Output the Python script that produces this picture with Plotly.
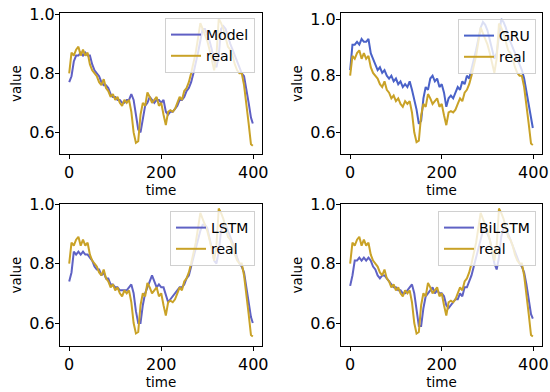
import plotly.graph_objects as go

time = list(range(0, 400, 5)) + [399]

real = [0.80, 0.87, 0.86, 0.88, 0.89, 0.86, 0.88, 0.86, 0.87, 0.83,
        0.81, 0.80, 0.79, 0.77, 0.76, 0.78, 0.75, 0.74, 0.72, 0.73,
        0.71, 0.72, 0.70, 0.69, 0.71, 0.70, 0.71, 0.67, 0.60, 0.565,
        0.57, 0.66, 0.70, 0.69, 0.735, 0.72, 0.70, 0.71, 0.72, 0.69,
        0.70, 0.66, 0.625, 0.67, 0.675, 0.67, 0.68, 0.70, 0.72, 0.71,
        0.74, 0.75, 0.77, 0.80, 0.83, 0.87, 0.92, 0.97, 0.95, 0.93,
        0.91, 0.88, 0.84, 0.81, 0.86, 0.985, 0.97, 0.95, 0.92, 0.89,
        0.88, 0.86, 0.83, 0.81, 0.80, 0.80, 0.76, 0.70, 0.63, 0.56, 0.555]

model = [0.77, 0.79, 0.84, 0.86, 0.86, 0.87, 0.86, 0.87, 0.86, 0.86,
         0.83, 0.81, 0.80, 0.79, 0.77, 0.76, 0.76, 0.75, 0.73, 0.72,
         0.72, 0.71, 0.71, 0.70, 0.70, 0.71, 0.71, 0.73, 0.71, 0.66,
         0.61, 0.60, 0.64, 0.69, 0.70, 0.72, 0.71, 0.70, 0.71, 0.71,
         0.70, 0.71, 0.67, 0.66, 0.67, 0.67, 0.68, 0.69, 0.71, 0.71,
         0.72, 0.74, 0.75, 0.77, 0.80, 0.83, 0.87, 0.91, 0.95, 0.95,
         0.93, 0.91, 0.88, 0.84, 0.82, 0.86, 0.95, 0.96, 0.95, 0.92,
         0.90, 0.88, 0.86, 0.84, 0.82, 0.80, 0.79, 0.75, 0.70, 0.65, 0.63]

gru = [0.82, 0.91, 0.91, 0.92, 0.91, 0.93, 0.92, 0.92, 0.93, 0.88,
       0.86, 0.84, 0.82, 0.83, 0.81, 0.82, 0.80, 0.79, 0.80, 0.78,
       0.79, 0.77, 0.78, 0.76, 0.77, 0.76, 0.78, 0.75, 0.72, 0.68,
       0.63, 0.64, 0.72, 0.76, 0.75, 0.79, 0.80, 0.78, 0.79, 0.76,
       0.77, 0.74, 0.69, 0.72, 0.73, 0.72, 0.74, 0.76, 0.75, 0.78,
       0.77, 0.80, 0.79, 0.82, 0.85, 0.89, 0.93, 0.97, 0.99, 0.98,
       0.96, 0.93, 0.89, 0.86, 0.88, 0.95, 1.00, 0.99, 0.97, 0.94,
       0.92, 0.90, 0.88, 0.86, 0.84, 0.82, 0.79, 0.74, 0.69, 0.64, 0.615]

lstm = [0.74, 0.77, 0.84, 0.83, 0.84, 0.83, 0.84, 0.83, 0.83, 0.82,
        0.81, 0.79, 0.78, 0.78, 0.76, 0.77, 0.75, 0.75, 0.73, 0.73,
        0.72, 0.72, 0.71, 0.71, 0.71, 0.71, 0.72, 0.73, 0.70, 0.64,
        0.60, 0.60, 0.66, 0.70, 0.72, 0.74, 0.76, 0.74, 0.72, 0.73,
        0.72, 0.72, 0.69, 0.67, 0.68, 0.69, 0.70, 0.71, 0.72, 0.72,
        0.73, 0.75, 0.76, 0.79, 0.82, 0.85, 0.88, 0.91, 0.93, 0.93,
        0.92, 0.89, 0.85, 0.81, 0.80, 0.84, 0.91, 0.93, 0.93, 0.91,
        0.89, 0.87, 0.85, 0.82, 0.80, 0.79, 0.77, 0.72, 0.67, 0.62, 0.60]

bilstm = [0.725, 0.76, 0.81, 0.81, 0.82, 0.81, 0.82, 0.81, 0.82, 0.81,
          0.79, 0.78, 0.76, 0.75, 0.76, 0.76, 0.75, 0.74, 0.73, 0.72,
          0.72, 0.71, 0.71, 0.70, 0.70, 0.71, 0.72, 0.73, 0.70, 0.65,
          0.59, 0.59, 0.65, 0.69, 0.70, 0.71, 0.72, 0.70, 0.71, 0.70,
          0.70, 0.69, 0.66, 0.65, 0.66, 0.67, 0.68, 0.68, 0.70, 0.69,
          0.72, 0.72, 0.74, 0.76, 0.79, 0.82, 0.86, 0.89, 0.91, 0.91,
          0.90, 0.88, 0.84, 0.80, 0.78, 0.82, 0.89, 0.92, 0.92, 0.90,
          0.88, 0.86, 0.84, 0.82, 0.80, 0.79, 0.77, 0.73, 0.68, 0.63, 0.615]

panels = [
    ("Model", model, "#5f5fc4", "legend"),
    ("GRU", gru, "#4a62c8", "legend2"),
    ("LSTM", lstm, "#5f62c4", "legend3"),
    ("BiLSTM", bilstm, "#5f62c4", "legend4"),
]
REAL_COLOR = "#c9a227"

W, H = 550, 392
# pixel boxes: (left, right, top, bottom)
boxes = [(60, 262, 13, 154), (341, 542, 13, 154), (60, 262, 204, 346), (341, 542, 204, 346)]
yranges = [[0.527, 1.004], [0.523, 1.022], [0.523, 1.0], [0.523, 1.0]]
legend_pos = [(255, 18), (536, 19), (255, 211), (536, 211)]

fig = go.Figure()
layout = dict(
    width=W, height=H, margin=dict(l=0, r=0, t=0, b=0, autoexpand=False),
    paper_bgcolor="white", plot_bgcolor="white",
    font=dict(family="DejaVu Sans", size=14, color="black"),
)

for i, (name, series, color, leg) in enumerate(panels):
    sfx = "" if i == 0 else str(i + 1)
    xa, ya = "x" + sfx, "y" + sfx
    fig.add_trace(go.Scatter(x=time, y=series, mode="lines", name=name,
                             line=dict(color=color, width=2),
                             xaxis=xa, yaxis=ya, legend=leg))
    fig.add_trace(go.Scatter(x=time, y=real, mode="lines", name="real",
                             line=dict(color=REAL_COLOR, width=2),
                             xaxis=xa, yaxis=ya, legend=leg))
    l, r, t, b = boxes[i]
    common = dict(showline=True, linecolor="black", linewidth=1, mirror=True,
                  ticks="outside", ticklen=4, tickcolor="black", showgrid=False,
                  zeroline=False, tickfont=dict(size=16), automargin=False)
    layout["xaxis" + sfx] = dict(domain=[l / W, r / W], anchor=ya, range=[-20, 419],
                                 tickvals=[0, 200, 400],
                                 title=dict(text="time", standoff=0, font=dict(size=13.5)),
                                 **common)
    layout["yaxis" + sfx] = dict(domain=[1 - b / H, 1 - t / H], anchor=xa,
                                 range=yranges[i], tickvals=[0.6, 0.8, 1.0],
                                 tickformat=".1f", ticklabelstandoff=-3,
                                 title=dict(text="value", standoff=4, font=dict(size=13.5)),
                                 **common)
    lx, ly = legend_pos[i]
    layout[leg] = dict(x=lx / W, y=1 - ly / H, xanchor="right", yanchor="top",
                       bgcolor="rgba(255,255,255,0.8)", bordercolor="#d0d0d0",
                       borderwidth=1, font=dict(size=14), tracegroupgap=0)

fig.update_layout(**layout)
fig.write_html("out.html", config={"displayModeBar": False},
               post_script="document.body.style.margin='0px';document.body.style.overflow='hidden';")
